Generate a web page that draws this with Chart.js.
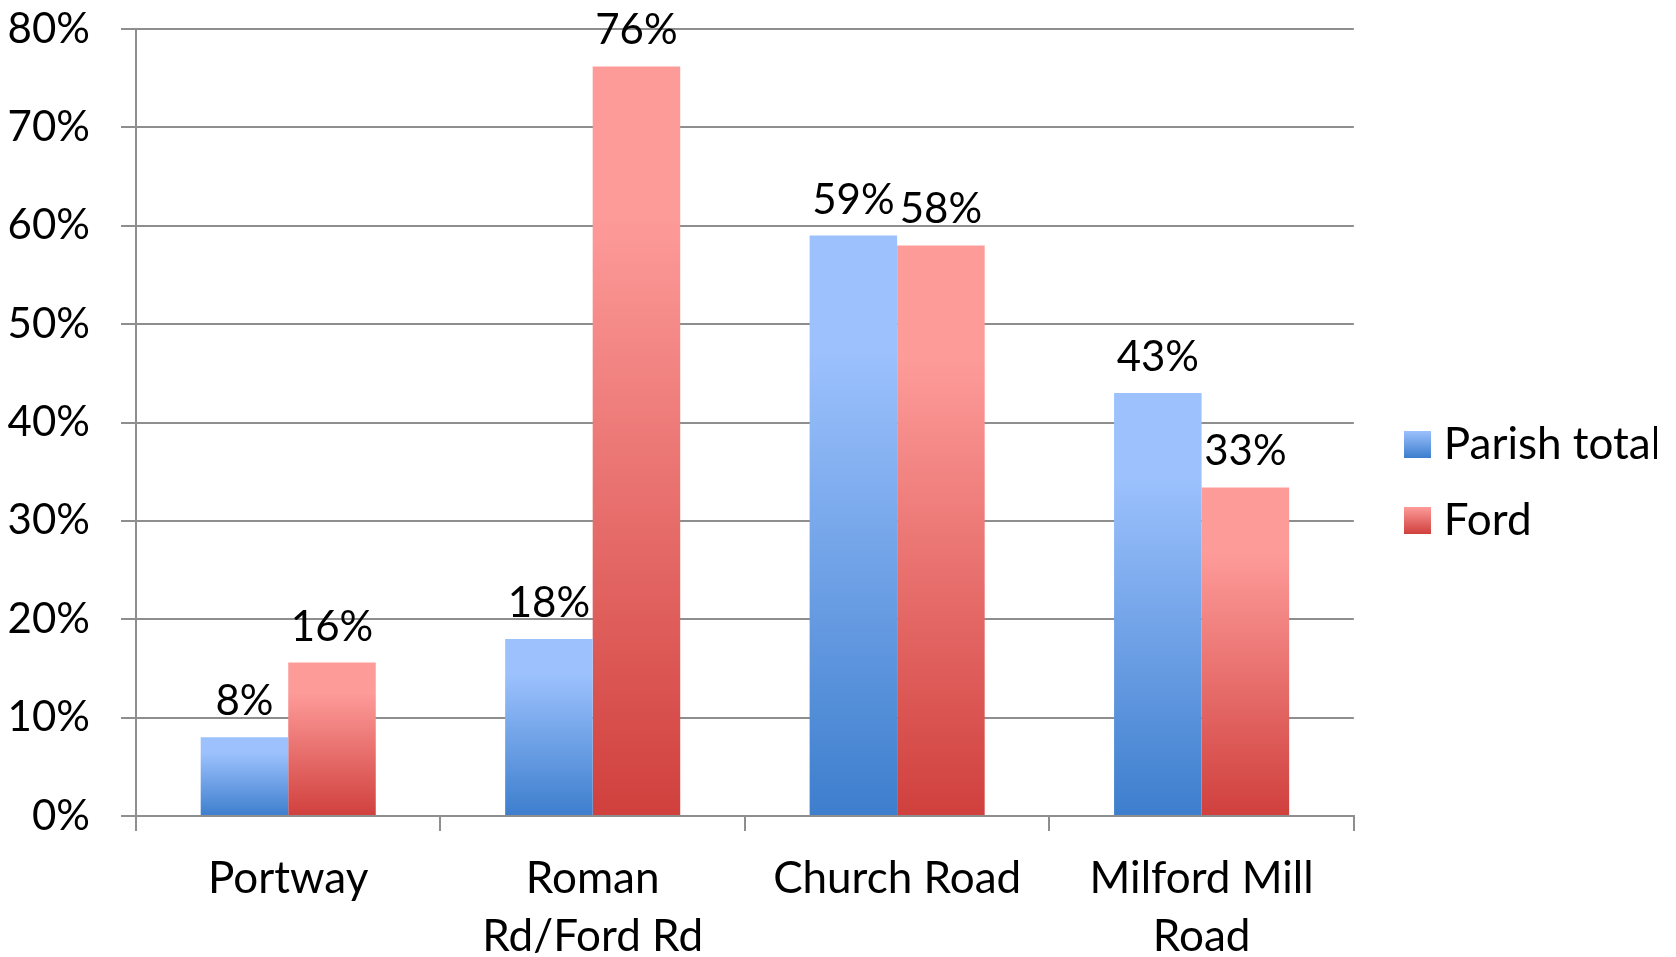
<!DOCTYPE html>
<html>
<head>
<meta charset="utf-8">
<script src="https://cdn.jsdelivr.net/npm/chart.js@4/dist/chart.umd.min.js"></script>
<style>
  html, body { margin: 0; padding: 0; background: #fff; }
  #wrap { width: 1676px; height: 957px; }
</style>
</head>
<body>
<div id="wrap"><canvas id="chart"></canvas></div>
<script>
// chart data
const categories = ['Portway', ['Roman', 'Rd/Ford Rd'], 'Church Road', ['Milford Mill', 'Road']];
const parishTotal = [8, 18, 59, 43];
const ford = [15.6, 76.2, 58, 33.4];
const yTicks = [0, 10, 20, 30, 40, 50, 60, 70, 80];

const FONT = 'Lato, "Open Sans", sans-serif';
const FONT_SIZE = 44;
const NUM_SIZE = 42;
const blue = { light: '#9cc1fd', dark: '#3d7ecd' };
const red = { light: '#fd9b99', dark: '#d0403d' };

// vertical gradient for each bar, light at the top, dark at the base
function barGradient(c, cols) {
    const chart = c.chart;
    if (!chart.chartArea || c.type !== 'data') return cols.dark;
    const y = chart.scales.y;
    const top = y.getPixelForValue(c.raw);
    const bottom = y.getPixelForValue(0);
    if (!(bottom - top > 0)) return cols.dark;
    const g = chart.ctx.createLinearGradient(0, top, 0, bottom);
    g.addColorStop(0, cols.light);
    g.addColorStop(0.2, cols.light);
    g.addColorStop(1, cols.dark);
    return g;
}

// small gradient squares for the legend
function legendSwatch(cols) {
    const cv = document.createElement('canvas');
    cv.width = 27; cv.height = 27;
    const x = cv.getContext('2d');
    const g = x.createLinearGradient(0, 0, 0, 27);
    g.addColorStop(0, cols.light);
    g.addColorStop(1, cols.dark);
    x.fillStyle = g;
    x.fillRect(0, 0, 27, 27);
    return cv;
}

// value labels over the bars
const barLabels = {
    id: 'barLabels',
    afterDatasetsDraw(chart) {
        const ctx = chart.ctx;
        ctx.save();
        ctx.font = NUM_SIZE + 'px ' + FONT;
        ctx.fillStyle = '#000';
        ctx.textAlign = 'center';
        ctx.textBaseline = 'alphabetic';
        chart.data.datasets.forEach((ds, i) => {
            chart.getDatasetMeta(i).data.forEach((bar, j) => {
                ctx.fillText(Math.round(ds.data[j]) + '%', bar.x, bar.y - 22);
            });
        });
        ctx.restore();
    }
};

Chart.defaults.font.family = FONT;
Chart.defaults.font.size = FONT_SIZE;
Chart.defaults.color = '#000';

new Chart(document.getElementById('chart'), {
    type: 'bar',
    data: {
        labels: categories,
        datasets: [
            { label: 'Parish total', data: parishTotal, backgroundColor: c => barGradient(c, blue), pointStyle: legendSwatch(blue) },
            { label: 'Ford', data: ford, backgroundColor: c => barGradient(c, red), pointStyle: legendSwatch(red) }
        ]
    },
    options: {
        responsive: true,
        maintainAspectRatio: false,
        animation: false,
        layout: { padding: { left: 0, top: 8, right: 19, bottom: 0 } },
        datasets: { bar: { categoryPercentage: 0.575, barPercentage: 1 } },
        plugins: {
            tooltip: { enabled: false },
            legend: {
                position: 'right',
                labels: {
                    usePointStyle: true,
                    pointStyleWidth: 9,
                    boxHeight: 27,
                    padding: 32,
                    font: { size: FONT_SIZE }
                }
            }
        },
        scales: {
            x: {
                grid: { display: true, drawOnChartArea: false, offset: true, tickLength: 15, color: '#8e8e8e', lineWidth: 2 },
                border: { display: true, color: '#8e8e8e', width: 2 },
                ticks: { padding: 19, font: { size: FONT_SIZE, lineHeight: 1.32 } },
                afterFit: a => { a.height = 141; a.paddingLeft = 0; a.paddingRight = 0; }
            },
            y: {
                min: 0,
                max: 80,
                afterBuildTicks: axis => { axis.ticks = yTicks.map(v => ({ value: v })); },
                grid: { color: '#8e8e8e', lineWidth: 2, tickLength: 15 },
                border: { display: true, color: '#8e8e8e', width: 2 },
                ticks: { padding: 31, font: { size: NUM_SIZE }, callback: v => v + '%' },
                afterFit: a => { a.width = 136; a.paddingTop = 29; a.paddingBottom = 0; }
            },
            // empty spacer between the plot and the legend
            gap: {
                type: 'linear',
                position: 'right',
                grid: { display: false },
                border: { display: false },
                ticks: { display: false },
                afterFit: a => { a.width = 27; a.paddingTop = 0; a.paddingBottom = 0; }
            }
        }
    },
    plugins: [barLabels]
});
</script>
</body>
</html>
